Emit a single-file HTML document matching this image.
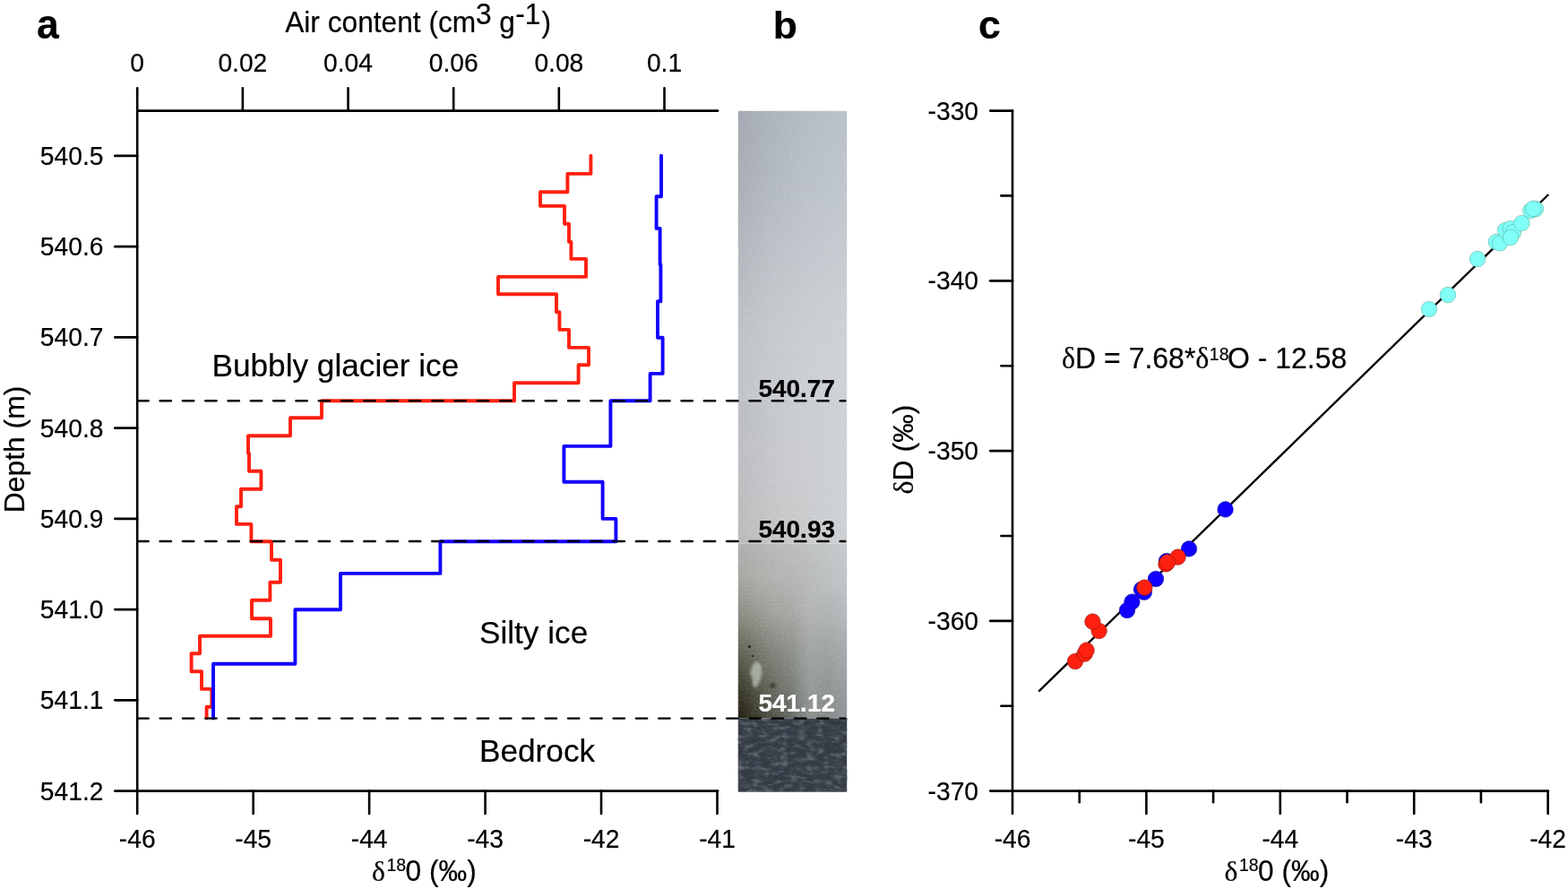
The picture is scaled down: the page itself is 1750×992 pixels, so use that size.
<!DOCTYPE html>
<html lang="en"><head><meta charset="utf-8"><title>Basal ice: air content, isotopes and core image</title>
<style>
html,body{margin:0;padding:0;background:#ffffff;}
body{width:1750px;height:992px;overflow:hidden;}
svg{display:block;}
text{font-family:'Liberation Sans', sans-serif;fill:#000;stroke:#000;stroke-width:0.2px;stroke-linejoin:round;}
.tk{font-size:28.2px;}
.tt{font-size:31.7px;}
.an{font-size:35.2px;}
.eq{font-size:32px;}
.pl{font-size:44.5px;font-weight:bold;}
.ph{font-size:28px;font-weight:bold;}
.dl{font-family:'Liberation Serif', 'DejaVu Serif', serif;}
.ax{stroke:#000;stroke-width:2.6;fill:none;stroke-linecap:round;}
.ah{stroke:#000;stroke-width:2.7;fill:none;stroke-linecap:round;}
.ds{stroke:#000;stroke-width:2.4;fill:none;stroke-linecap:round;stroke-dasharray:12.4 12.9;}
.rl{stroke:#ff2010;stroke-width:3.9;fill:none;stroke-linejoin:round;stroke-linecap:round;}
.bl{stroke:#1200ff;stroke-width:3.9;fill:none;stroke-linejoin:round;stroke-linecap:round;}
.pc{fill:#80fff7;stroke:#4f9488;stroke-width:0.45;}
.pr{fill:#ff2010;stroke:#7a1008;stroke-width:0.5;}
.pb{fill:#1200ff;stroke:#0a0090;stroke-width:0.45;}
</style></head><body>
<svg width="1750" height="992" viewBox="0 0 1750 992">
<rect x="0" y="0" width="1750" height="992" fill="#ffffff"/>
<defs>
<linearGradient id="p0"><stop offset="0.03" stop-color="#a4a9b2"/><stop offset="0.3" stop-color="#acb3bc"/><stop offset="0.62" stop-color="#b4bbc4"/><stop offset="0.97" stop-color="#b9c1c9"/></linearGradient>
<linearGradient id="p1"><stop offset="0.03" stop-color="#a4a9b2"/><stop offset="0.3" stop-color="#acb3bc"/><stop offset="0.62" stop-color="#b4bbc4"/><stop offset="0.97" stop-color="#b9c1c9"/></linearGradient>
<linearGradient id="p2"><stop offset="0.03" stop-color="#a5aab3"/><stop offset="0.3" stop-color="#adb4bc"/><stop offset="0.62" stop-color="#b5bcc4"/><stop offset="0.97" stop-color="#bac1c9"/></linearGradient>
<linearGradient id="p3"><stop offset="0.03" stop-color="#a5aab3"/><stop offset="0.3" stop-color="#adb4bd"/><stop offset="0.62" stop-color="#b5bcc5"/><stop offset="0.97" stop-color="#bac2ca"/></linearGradient>
<linearGradient id="p4"><stop offset="0.03" stop-color="#a5aab3"/><stop offset="0.3" stop-color="#adb4bd"/><stop offset="0.62" stop-color="#b5bcc5"/><stop offset="0.97" stop-color="#bac2ca"/></linearGradient>
<linearGradient id="p5"><stop offset="0.03" stop-color="#a6abb3"/><stop offset="0.3" stop-color="#aeb4bd"/><stop offset="0.62" stop-color="#b6bcc5"/><stop offset="0.97" stop-color="#bac2ca"/></linearGradient>
<linearGradient id="p6"><stop offset="0.03" stop-color="#a6abb4"/><stop offset="0.3" stop-color="#aeb5bd"/><stop offset="0.62" stop-color="#b6bdc5"/><stop offset="0.97" stop-color="#bbc2ca"/></linearGradient>
<linearGradient id="p7"><stop offset="0.03" stop-color="#a6abb4"/><stop offset="0.3" stop-color="#aeb5bd"/><stop offset="0.62" stop-color="#b6bdc5"/><stop offset="0.97" stop-color="#bbc2ca"/></linearGradient>
<linearGradient id="p8"><stop offset="0.03" stop-color="#a7acb4"/><stop offset="0.3" stop-color="#afb5be"/><stop offset="0.62" stop-color="#b7bdc6"/><stop offset="0.97" stop-color="#bbc3ca"/></linearGradient>
<linearGradient id="p9"><stop offset="0.03" stop-color="#a7acb4"/><stop offset="0.3" stop-color="#afb5be"/><stop offset="0.62" stop-color="#b7bdc6"/><stop offset="0.97" stop-color="#bbc3ca"/></linearGradient>
<linearGradient id="p10"><stop offset="0.03" stop-color="#a7acb5"/><stop offset="0.3" stop-color="#afb6be"/><stop offset="0.62" stop-color="#b7bec6"/><stop offset="0.97" stop-color="#bcc3cb"/></linearGradient>
<linearGradient id="p11"><stop offset="0.03" stop-color="#a7acb5"/><stop offset="0.3" stop-color="#afb6be"/><stop offset="0.62" stop-color="#b7bec6"/><stop offset="0.97" stop-color="#bcc3cb"/></linearGradient>
<linearGradient id="p12"><stop offset="0.03" stop-color="#a8adb5"/><stop offset="0.3" stop-color="#b0b6be"/><stop offset="0.62" stop-color="#b8bec6"/><stop offset="0.97" stop-color="#bcc3cb"/></linearGradient>
<linearGradient id="p13"><stop offset="0.03" stop-color="#a8adb5"/><stop offset="0.3" stop-color="#b0b6bf"/><stop offset="0.62" stop-color="#b8bec7"/><stop offset="0.97" stop-color="#bcc4cb"/></linearGradient>
<linearGradient id="p14"><stop offset="0.03" stop-color="#a8adb6"/><stop offset="0.3" stop-color="#b0b7bf"/><stop offset="0.62" stop-color="#b8bfc7"/><stop offset="0.97" stop-color="#bdc4cb"/></linearGradient>
<linearGradient id="p15"><stop offset="0.03" stop-color="#a9aeb6"/><stop offset="0.3" stop-color="#b1b7bf"/><stop offset="0.62" stop-color="#b9bfc7"/><stop offset="0.97" stop-color="#bdc4cb"/></linearGradient>
<linearGradient id="p16"><stop offset="0.03" stop-color="#a9aeb6"/><stop offset="0.3" stop-color="#b1b7bf"/><stop offset="0.62" stop-color="#b9bfc7"/><stop offset="0.97" stop-color="#bdc4cb"/></linearGradient>
<linearGradient id="p17"><stop offset="0.03" stop-color="#a9aeb6"/><stop offset="0.3" stop-color="#b1b7bf"/><stop offset="0.62" stop-color="#b9bfc7"/><stop offset="0.97" stop-color="#bdc4cc"/></linearGradient>
<linearGradient id="p18"><stop offset="0.03" stop-color="#aaafb7"/><stop offset="0.3" stop-color="#b2b8c0"/><stop offset="0.62" stop-color="#bac0c8"/><stop offset="0.97" stop-color="#bec5cc"/></linearGradient>
<linearGradient id="p19"><stop offset="0.03" stop-color="#aaafb7"/><stop offset="0.3" stop-color="#b2b8c0"/><stop offset="0.62" stop-color="#bac0c8"/><stop offset="0.97" stop-color="#bec5cc"/></linearGradient>
<linearGradient id="p20"><stop offset="0.03" stop-color="#aaafb7"/><stop offset="0.3" stop-color="#b2b8c0"/><stop offset="0.62" stop-color="#bac0c8"/><stop offset="0.97" stop-color="#bec5cc"/></linearGradient>
<linearGradient id="p21"><stop offset="0.03" stop-color="#abb0b7"/><stop offset="0.3" stop-color="#b3b9c0"/><stop offset="0.62" stop-color="#bbc0c8"/><stop offset="0.97" stop-color="#bec5cc"/></linearGradient>
<linearGradient id="p22"><stop offset="0.03" stop-color="#abb0b8"/><stop offset="0.3" stop-color="#b3b9c1"/><stop offset="0.62" stop-color="#bbc1c9"/><stop offset="0.97" stop-color="#bfc6cc"/></linearGradient>
<linearGradient id="p23"><stop offset="0.03" stop-color="#acb1b8"/><stop offset="0.3" stop-color="#b4bac1"/><stop offset="0.62" stop-color="#bbc1c9"/><stop offset="0.97" stop-color="#bfc6cd"/></linearGradient>
<linearGradient id="p24"><stop offset="0.03" stop-color="#acb1b9"/><stop offset="0.3" stop-color="#b4bac2"/><stop offset="0.62" stop-color="#bcc2c9"/><stop offset="0.97" stop-color="#c0c6cd"/></linearGradient>
<linearGradient id="p25"><stop offset="0.03" stop-color="#adb1b9"/><stop offset="0.3" stop-color="#b5bac2"/><stop offset="0.62" stop-color="#bcc2c9"/><stop offset="0.97" stop-color="#c0c7cd"/></linearGradient>
<linearGradient id="p26"><stop offset="0.03" stop-color="#adb2b9"/><stop offset="0.3" stop-color="#b5bbc2"/><stop offset="0.62" stop-color="#bdc2ca"/><stop offset="0.97" stop-color="#c0c7cd"/></linearGradient>
<linearGradient id="p27"><stop offset="0.03" stop-color="#aeb2ba"/><stop offset="0.3" stop-color="#b6bbc3"/><stop offset="0.62" stop-color="#bdc3ca"/><stop offset="0.97" stop-color="#c1c7cd"/></linearGradient>
<linearGradient id="p28"><stop offset="0.03" stop-color="#aeb3ba"/><stop offset="0.3" stop-color="#b6bcc3"/><stop offset="0.62" stop-color="#bdc3ca"/><stop offset="0.97" stop-color="#c1c8ce"/></linearGradient>
<linearGradient id="p29"><stop offset="0.03" stop-color="#afb3ba"/><stop offset="0.3" stop-color="#b7bcc3"/><stop offset="0.62" stop-color="#bec3ca"/><stop offset="0.97" stop-color="#c1c8ce"/></linearGradient>
<linearGradient id="p30"><stop offset="0.03" stop-color="#afb4bb"/><stop offset="0.3" stop-color="#b7bdc4"/><stop offset="0.62" stop-color="#bec4cb"/><stop offset="0.97" stop-color="#c2c8ce"/></linearGradient>
<linearGradient id="p31"><stop offset="0.03" stop-color="#b0b4bb"/><stop offset="0.3" stop-color="#b8bdc4"/><stop offset="0.62" stop-color="#bfc4cb"/><stop offset="0.97" stop-color="#c2c8ce"/></linearGradient>
<linearGradient id="p32"><stop offset="0.03" stop-color="#b0b5bb"/><stop offset="0.3" stop-color="#b8bec4"/><stop offset="0.62" stop-color="#bfc4cb"/><stop offset="0.97" stop-color="#c2c9ce"/></linearGradient>
<linearGradient id="p33"><stop offset="0.03" stop-color="#b1b5bc"/><stop offset="0.3" stop-color="#b9bec5"/><stop offset="0.62" stop-color="#bfc5cb"/><stop offset="0.97" stop-color="#c3c9cf"/></linearGradient>
<linearGradient id="p34"><stop offset="0.03" stop-color="#b1b5bc"/><stop offset="0.3" stop-color="#b9bec5"/><stop offset="0.62" stop-color="#c0c5cc"/><stop offset="0.97" stop-color="#c3c9cf"/></linearGradient>
<linearGradient id="p35"><stop offset="0.03" stop-color="#b2b6bc"/><stop offset="0.3" stop-color="#babfc5"/><stop offset="0.62" stop-color="#c0c5cc"/><stop offset="0.97" stop-color="#c3cacf"/></linearGradient>
<linearGradient id="p36"><stop offset="0.03" stop-color="#b2b6bd"/><stop offset="0.3" stop-color="#babfc6"/><stop offset="0.62" stop-color="#c1c6cc"/><stop offset="0.97" stop-color="#c4cacf"/></linearGradient>
<linearGradient id="p37"><stop offset="0.03" stop-color="#b3b7bd"/><stop offset="0.3" stop-color="#bbc0c6"/><stop offset="0.62" stop-color="#c1c6cc"/><stop offset="0.97" stop-color="#c4cacf"/></linearGradient>
<linearGradient id="p38"><stop offset="0.03" stop-color="#b3b7bd"/><stop offset="0.3" stop-color="#bbc0c6"/><stop offset="0.62" stop-color="#c1c6cd"/><stop offset="0.97" stop-color="#c4cbd0"/></linearGradient>
<linearGradient id="p39"><stop offset="0.03" stop-color="#b4b8be"/><stop offset="0.3" stop-color="#bcc1c7"/><stop offset="0.62" stop-color="#c2c7cd"/><stop offset="0.97" stop-color="#c5cbd0"/></linearGradient>
<linearGradient id="p40"><stop offset="0.03" stop-color="#b4b8be"/><stop offset="0.3" stop-color="#bcc1c7"/><stop offset="0.62" stop-color="#c2c7cd"/><stop offset="0.97" stop-color="#c5cbd0"/></linearGradient>
<linearGradient id="p41"><stop offset="0.03" stop-color="#b5b9be"/><stop offset="0.3" stop-color="#bdc1c7"/><stop offset="0.62" stop-color="#c2c7cd"/><stop offset="0.97" stop-color="#c5cbd0"/></linearGradient>
<linearGradient id="p42"><stop offset="0.03" stop-color="#b5b9bf"/><stop offset="0.3" stop-color="#bdc2c8"/><stop offset="0.62" stop-color="#c3c8ce"/><stop offset="0.97" stop-color="#c6ccd1"/></linearGradient>
<linearGradient id="p43"><stop offset="0.03" stop-color="#b6b9bf"/><stop offset="0.3" stop-color="#bdc2c8"/><stop offset="0.62" stop-color="#c3c8ce"/><stop offset="0.97" stop-color="#c6ccd1"/></linearGradient>
<linearGradient id="p44"><stop offset="0.03" stop-color="#b6bac0"/><stop offset="0.3" stop-color="#bec3c8"/><stop offset="0.62" stop-color="#c4c8ce"/><stop offset="0.97" stop-color="#c7ccd1"/></linearGradient>
<linearGradient id="p45"><stop offset="0.03" stop-color="#b6bac0"/><stop offset="0.3" stop-color="#bec3c9"/><stop offset="0.62" stop-color="#c4c9ce"/><stop offset="0.97" stop-color="#c7ccd1"/></linearGradient>
<linearGradient id="p46"><stop offset="0.03" stop-color="#b7bbc0"/><stop offset="0.3" stop-color="#bfc3c9"/><stop offset="0.62" stop-color="#c4c9cf"/><stop offset="0.97" stop-color="#c7cdd2"/></linearGradient>
<linearGradient id="p47"><stop offset="0.03" stop-color="#b7bbc1"/><stop offset="0.3" stop-color="#bfc4c9"/><stop offset="0.62" stop-color="#c5c9cf"/><stop offset="0.97" stop-color="#c8cdd2"/></linearGradient>
<linearGradient id="p48"><stop offset="0.03" stop-color="#b8bbc1"/><stop offset="0.3" stop-color="#bfc4c9"/><stop offset="0.62" stop-color="#c5c9cf"/><stop offset="0.97" stop-color="#c8cdd2"/></linearGradient>
<linearGradient id="p49"><stop offset="0.03" stop-color="#b8bcc1"/><stop offset="0.3" stop-color="#c0c4ca"/><stop offset="0.62" stop-color="#c5cacf"/><stop offset="0.97" stop-color="#c8cdd2"/></linearGradient>
<linearGradient id="p50"><stop offset="0.03" stop-color="#b9bcc2"/><stop offset="0.3" stop-color="#c0c5ca"/><stop offset="0.62" stop-color="#c6cad0"/><stop offset="0.97" stop-color="#c9ced3"/></linearGradient>
<linearGradient id="p51"><stop offset="0.03" stop-color="#b9bdc2"/><stop offset="0.3" stop-color="#c1c5ca"/><stop offset="0.62" stop-color="#c6cad0"/><stop offset="0.97" stop-color="#c9ced3"/></linearGradient>
<linearGradient id="p52"><stop offset="0.03" stop-color="#babdc2"/><stop offset="0.3" stop-color="#c1c5cb"/><stop offset="0.62" stop-color="#c6cbd0"/><stop offset="0.97" stop-color="#c9ced3"/></linearGradient>
<linearGradient id="p53"><stop offset="0.03" stop-color="#babdc3"/><stop offset="0.3" stop-color="#c1c6cb"/><stop offset="0.62" stop-color="#c7cbd0"/><stop offset="0.97" stop-color="#caced3"/></linearGradient>
<linearGradient id="p54"><stop offset="0.03" stop-color="#babec3"/><stop offset="0.3" stop-color="#c2c6cb"/><stop offset="0.62" stop-color="#c7cbd1"/><stop offset="0.97" stop-color="#cacfd4"/></linearGradient>
<linearGradient id="p55"><stop offset="0.03" stop-color="#bbbec3"/><stop offset="0.3" stop-color="#c2c6cc"/><stop offset="0.62" stop-color="#c7ccd1"/><stop offset="0.97" stop-color="#cacfd4"/></linearGradient>
<linearGradient id="p56"><stop offset="0.03" stop-color="#bbbfc4"/><stop offset="0.3" stop-color="#c3c7cc"/><stop offset="0.62" stop-color="#c8ccd1"/><stop offset="0.97" stop-color="#cbcfd4"/></linearGradient>
<linearGradient id="p57"><stop offset="0.03" stop-color="#bcbfc4"/><stop offset="0.3" stop-color="#c3c7cc"/><stop offset="0.62" stop-color="#c8ccd1"/><stop offset="0.97" stop-color="#cbcfd4"/></linearGradient>
<linearGradient id="p58"><stop offset="0.03" stop-color="#bcbfc4"/><stop offset="0.3" stop-color="#c3c7cc"/><stop offset="0.62" stop-color="#c8ccd2"/><stop offset="0.97" stop-color="#cbd0d5"/></linearGradient>
<linearGradient id="p59"><stop offset="0.03" stop-color="#bdc0c5"/><stop offset="0.3" stop-color="#c4c8cd"/><stop offset="0.62" stop-color="#c9cdd2"/><stop offset="0.97" stop-color="#ccd0d5"/></linearGradient>
<linearGradient id="p60"><stop offset="0.03" stop-color="#bdc0c5"/><stop offset="0.3" stop-color="#c4c8cd"/><stop offset="0.62" stop-color="#c9cdd2"/><stop offset="0.97" stop-color="#ccd0d5"/></linearGradient>
<linearGradient id="p61"><stop offset="0.03" stop-color="#bdc0c5"/><stop offset="0.3" stop-color="#c4c8cd"/><stop offset="0.62" stop-color="#c9cdd2"/><stop offset="0.97" stop-color="#ccd0d5"/></linearGradient>
<linearGradient id="p62"><stop offset="0.03" stop-color="#bdc0c5"/><stop offset="0.3" stop-color="#c4c8cd"/><stop offset="0.62" stop-color="#c9cdd2"/><stop offset="0.97" stop-color="#ccd0d5"/></linearGradient>
<linearGradient id="p63"><stop offset="0.03" stop-color="#bec1c5"/><stop offset="0.3" stop-color="#c4c8cd"/><stop offset="0.62" stop-color="#c9cdd2"/><stop offset="0.97" stop-color="#ccd0d5"/></linearGradient>
<linearGradient id="p64"><stop offset="0.03" stop-color="#bec1c6"/><stop offset="0.3" stop-color="#c5c8cd"/><stop offset="0.62" stop-color="#cacdd2"/><stop offset="0.97" stop-color="#ccd0d5"/></linearGradient>
<linearGradient id="p65"><stop offset="0.03" stop-color="#bec1c6"/><stop offset="0.3" stop-color="#c5c9cd"/><stop offset="0.62" stop-color="#caced2"/><stop offset="0.97" stop-color="#cdd1d5"/></linearGradient>
<linearGradient id="p66"><stop offset="0.03" stop-color="#bec1c6"/><stop offset="0.3" stop-color="#c5c9cd"/><stop offset="0.62" stop-color="#caced2"/><stop offset="0.97" stop-color="#cdd1d5"/></linearGradient>
<linearGradient id="p67"><stop offset="0.03" stop-color="#bec1c6"/><stop offset="0.3" stop-color="#c5c9cd"/><stop offset="0.62" stop-color="#caced2"/><stop offset="0.97" stop-color="#cdd1d5"/></linearGradient>
<linearGradient id="p68"><stop offset="0.03" stop-color="#bfc2c6"/><stop offset="0.3" stop-color="#c5c9cd"/><stop offset="0.62" stop-color="#caced2"/><stop offset="0.97" stop-color="#cdd1d5"/></linearGradient>
<linearGradient id="p69"><stop offset="0.03" stop-color="#bfc2c6"/><stop offset="0.3" stop-color="#c5c9cd"/><stop offset="0.62" stop-color="#caced2"/><stop offset="0.97" stop-color="#cdd1d5"/></linearGradient>
<linearGradient id="p70"><stop offset="0.03" stop-color="#bfc2c6"/><stop offset="0.3" stop-color="#c5c9cd"/><stop offset="0.62" stop-color="#caced2"/><stop offset="0.97" stop-color="#cdd1d5"/></linearGradient>
<linearGradient id="p71"><stop offset="0.03" stop-color="#bfc2c7"/><stop offset="0.3" stop-color="#c6c9ce"/><stop offset="0.62" stop-color="#cbced3"/><stop offset="0.97" stop-color="#cdd1d6"/></linearGradient>
<linearGradient id="p72"><stop offset="0.03" stop-color="#bfc2c7"/><stop offset="0.3" stop-color="#c6c9ce"/><stop offset="0.62" stop-color="#cbced3"/><stop offset="0.97" stop-color="#cdd1d6"/></linearGradient>
<linearGradient id="p73"><stop offset="0.03" stop-color="#c0c3c7"/><stop offset="0.3" stop-color="#c6c9ce"/><stop offset="0.62" stop-color="#cbced3"/><stop offset="0.97" stop-color="#cdd1d6"/></linearGradient>
<linearGradient id="p74"><stop offset="0.03" stop-color="#c0c3c7"/><stop offset="0.3" stop-color="#c6c9ce"/><stop offset="0.62" stop-color="#cbced3"/><stop offset="0.97" stop-color="#cdd1d6"/></linearGradient>
<linearGradient id="p75"><stop offset="0.03" stop-color="#c0c3c7"/><stop offset="0.3" stop-color="#c6c9ce"/><stop offset="0.62" stop-color="#cbced3"/><stop offset="0.97" stop-color="#cdd1d6"/></linearGradient>
<linearGradient id="p76"><stop offset="0.03" stop-color="#c0c3c7"/><stop offset="0.3" stop-color="#c6cace"/><stop offset="0.62" stop-color="#cbcfd3"/><stop offset="0.97" stop-color="#ced2d6"/></linearGradient>
<linearGradient id="p77"><stop offset="0.03" stop-color="#c0c3c7"/><stop offset="0.3" stop-color="#c6cace"/><stop offset="0.62" stop-color="#cbcfd3"/><stop offset="0.97" stop-color="#ced2d6"/></linearGradient>
<linearGradient id="p78"><stop offset="0.03" stop-color="#c1c4c8"/><stop offset="0.3" stop-color="#c7cace"/><stop offset="0.62" stop-color="#cccfd3"/><stop offset="0.97" stop-color="#ced2d6"/></linearGradient>
<linearGradient id="p79"><stop offset="0.03" stop-color="#c1c4c8"/><stop offset="0.3" stop-color="#c7cace"/><stop offset="0.62" stop-color="#cccfd3"/><stop offset="0.97" stop-color="#ced2d6"/></linearGradient>
<linearGradient id="p80"><stop offset="0.03" stop-color="#c1c4c8"/><stop offset="0.3" stop-color="#c7cace"/><stop offset="0.62" stop-color="#cccfd3"/><stop offset="0.97" stop-color="#ced2d6"/></linearGradient>
<linearGradient id="p81"><stop offset="0.03" stop-color="#bcbec3"/><stop offset="0.3" stop-color="#c4c7cc"/><stop offset="0.62" stop-color="#cacdd2"/><stop offset="0.97" stop-color="#cdd1d6"/></linearGradient>
<linearGradient id="p82"><stop offset="0.03" stop-color="#bcbec3"/><stop offset="0.3" stop-color="#c4c7cc"/><stop offset="0.62" stop-color="#cacdd2"/><stop offset="0.97" stop-color="#cdd1d6"/></linearGradient>
<linearGradient id="p83"><stop offset="0.03" stop-color="#bcbec3"/><stop offset="0.3" stop-color="#c4c7cc"/><stop offset="0.62" stop-color="#cacdd2"/><stop offset="0.97" stop-color="#cdd1d6"/></linearGradient>
<linearGradient id="p84"><stop offset="0.03" stop-color="#bcbec3"/><stop offset="0.3" stop-color="#c4c7cc"/><stop offset="0.62" stop-color="#cacdd2"/><stop offset="0.97" stop-color="#cdd1d6"/></linearGradient>
<linearGradient id="p85"><stop offset="0.03" stop-color="#bcbec3"/><stop offset="0.3" stop-color="#c4c7cc"/><stop offset="0.62" stop-color="#cacdd2"/><stop offset="0.97" stop-color="#cdd1d6"/></linearGradient>
<linearGradient id="p86"><stop offset="0.03" stop-color="#bcbec2"/><stop offset="0.3" stop-color="#c4c7cb"/><stop offset="0.62" stop-color="#cacdd1"/><stop offset="0.97" stop-color="#ced1d6"/></linearGradient>
<linearGradient id="p87"><stop offset="0.03" stop-color="#bcbec2"/><stop offset="0.3" stop-color="#c4c7cb"/><stop offset="0.62" stop-color="#cacdd1"/><stop offset="0.97" stop-color="#ced1d6"/></linearGradient>
<linearGradient id="p88"><stop offset="0.03" stop-color="#bcbec2"/><stop offset="0.3" stop-color="#c4c7cb"/><stop offset="0.62" stop-color="#cacdd1"/><stop offset="0.97" stop-color="#ced1d6"/></linearGradient>
<linearGradient id="p89"><stop offset="0.03" stop-color="#bcbec2"/><stop offset="0.3" stop-color="#c4c7cb"/><stop offset="0.62" stop-color="#cacdd1"/><stop offset="0.97" stop-color="#ced1d6"/></linearGradient>
<linearGradient id="p90"><stop offset="0.03" stop-color="#bcbec2"/><stop offset="0.3" stop-color="#c4c7cb"/><stop offset="0.62" stop-color="#cacdd1"/><stop offset="0.97" stop-color="#ced1d6"/></linearGradient>
<linearGradient id="p91"><stop offset="0.03" stop-color="#bdbec2"/><stop offset="0.3" stop-color="#c5c7cb"/><stop offset="0.62" stop-color="#cbcdd1"/><stop offset="0.97" stop-color="#ced2d5"/></linearGradient>
<linearGradient id="p92"><stop offset="0.03" stop-color="#bdbec2"/><stop offset="0.3" stop-color="#c5c7cb"/><stop offset="0.62" stop-color="#cbcdd1"/><stop offset="0.97" stop-color="#ced2d5"/></linearGradient>
<linearGradient id="p93"><stop offset="0.03" stop-color="#bdbec2"/><stop offset="0.3" stop-color="#c5c7cb"/><stop offset="0.62" stop-color="#cbcdd1"/><stop offset="0.97" stop-color="#ced2d5"/></linearGradient>
<linearGradient id="p94"><stop offset="0.03" stop-color="#bdbec2"/><stop offset="0.3" stop-color="#c5c7cb"/><stop offset="0.62" stop-color="#cbcdd1"/><stop offset="0.97" stop-color="#ced2d5"/></linearGradient>
<linearGradient id="p95"><stop offset="0.03" stop-color="#bdbec1"/><stop offset="0.3" stop-color="#c5c7ca"/><stop offset="0.62" stop-color="#cbcdd0"/><stop offset="0.97" stop-color="#cfd2d5"/></linearGradient>
<linearGradient id="p96"><stop offset="0.03" stop-color="#bdbec1"/><stop offset="0.3" stop-color="#c5c7ca"/><stop offset="0.62" stop-color="#cbcdd0"/><stop offset="0.97" stop-color="#cfd2d5"/></linearGradient>
<linearGradient id="p97"><stop offset="0.03" stop-color="#bdbec1"/><stop offset="0.3" stop-color="#c5c7ca"/><stop offset="0.62" stop-color="#cbcdd0"/><stop offset="0.97" stop-color="#cfd2d5"/></linearGradient>
<linearGradient id="p98"><stop offset="0.03" stop-color="#bdbec1"/><stop offset="0.3" stop-color="#c5c7ca"/><stop offset="0.62" stop-color="#cbcdd0"/><stop offset="0.97" stop-color="#cfd2d5"/></linearGradient>
<linearGradient id="p99"><stop offset="0.03" stop-color="#bdbec1"/><stop offset="0.3" stop-color="#c5c7ca"/><stop offset="0.62" stop-color="#cbcdd0"/><stop offset="0.97" stop-color="#cfd2d5"/></linearGradient>
<linearGradient id="p100"><stop offset="0.03" stop-color="#bdbec1"/><stop offset="0.3" stop-color="#c5c7ca"/><stop offset="0.62" stop-color="#cbcdd0"/><stop offset="0.97" stop-color="#cfd2d5"/></linearGradient>
<linearGradient id="p101"><stop offset="0.03" stop-color="#bdbec1"/><stop offset="0.3" stop-color="#c5c7ca"/><stop offset="0.62" stop-color="#cbcdd0"/><stop offset="0.97" stop-color="#cfd2d5"/></linearGradient>
<linearGradient id="p102"><stop offset="0.03" stop-color="#bdbec0"/><stop offset="0.3" stop-color="#c5c7c9"/><stop offset="0.62" stop-color="#cbcdcf"/><stop offset="0.97" stop-color="#cfd2d5"/></linearGradient>
<linearGradient id="p103"><stop offset="0.03" stop-color="#bdbec0"/><stop offset="0.3" stop-color="#c5c7c9"/><stop offset="0.62" stop-color="#cbcdcf"/><stop offset="0.97" stop-color="#cfd2d5"/></linearGradient>
<linearGradient id="p104"><stop offset="0.03" stop-color="#bcbdc0"/><stop offset="0.3" stop-color="#c4c6c9"/><stop offset="0.62" stop-color="#cacccf"/><stop offset="0.97" stop-color="#cfd2d4"/></linearGradient>
<linearGradient id="p105"><stop offset="0.03" stop-color="#bcbdc0"/><stop offset="0.3" stop-color="#c4c6c9"/><stop offset="0.62" stop-color="#cacccf"/><stop offset="0.97" stop-color="#ced1d4"/></linearGradient>
<linearGradient id="p106"><stop offset="0.03" stop-color="#bcbdc0"/><stop offset="0.3" stop-color="#c4c6c9"/><stop offset="0.62" stop-color="#cacccf"/><stop offset="0.97" stop-color="#ced1d4"/></linearGradient>
<linearGradient id="p107"><stop offset="0.03" stop-color="#bcbdbf"/><stop offset="0.3" stop-color="#c4c6c8"/><stop offset="0.62" stop-color="#caccce"/><stop offset="0.97" stop-color="#ced1d4"/></linearGradient>
<linearGradient id="p108"><stop offset="0.03" stop-color="#bcbdbf"/><stop offset="0.3" stop-color="#c4c6c8"/><stop offset="0.62" stop-color="#caccce"/><stop offset="0.97" stop-color="#ced1d4"/></linearGradient>
<linearGradient id="p109"><stop offset="0.03" stop-color="#bcbdbf"/><stop offset="0.3" stop-color="#c4c6c8"/><stop offset="0.62" stop-color="#caccce"/><stop offset="0.97" stop-color="#ced1d4"/></linearGradient>
<linearGradient id="p110"><stop offset="0.03" stop-color="#bcbdbf"/><stop offset="0.3" stop-color="#c4c6c8"/><stop offset="0.62" stop-color="#caccce"/><stop offset="0.97" stop-color="#ced1d4"/></linearGradient>
<linearGradient id="p111"><stop offset="0.03" stop-color="#bbbcbe"/><stop offset="0.3" stop-color="#c3c5c7"/><stop offset="0.62" stop-color="#c9cbcd"/><stop offset="0.97" stop-color="#ced1d3"/></linearGradient>
<linearGradient id="p112"><stop offset="0.03" stop-color="#bbbcbe"/><stop offset="0.3" stop-color="#c3c5c7"/><stop offset="0.62" stop-color="#c9cbcd"/><stop offset="0.97" stop-color="#ced1d3"/></linearGradient>
<linearGradient id="p113"><stop offset="0.03" stop-color="#bbbcbe"/><stop offset="0.3" stop-color="#c3c5c7"/><stop offset="0.62" stop-color="#c9cbcd"/><stop offset="0.97" stop-color="#ced1d3"/></linearGradient>
<linearGradient id="p114"><stop offset="0.03" stop-color="#bbbcbe"/><stop offset="0.3" stop-color="#c3c5c7"/><stop offset="0.62" stop-color="#c9cbcd"/><stop offset="0.97" stop-color="#ced1d3"/></linearGradient>
<linearGradient id="p115"><stop offset="0.03" stop-color="#bbbcbd"/><stop offset="0.3" stop-color="#c3c5c6"/><stop offset="0.62" stop-color="#c9cbcc"/><stop offset="0.97" stop-color="#ced1d3"/></linearGradient>
<linearGradient id="p116"><stop offset="0.03" stop-color="#bbbcbd"/><stop offset="0.3" stop-color="#c3c5c6"/><stop offset="0.62" stop-color="#c9cbcc"/><stop offset="0.97" stop-color="#cdd0d3"/></linearGradient>
<linearGradient id="p117"><stop offset="0.03" stop-color="#bbbcbd"/><stop offset="0.3" stop-color="#c3c5c6"/><stop offset="0.62" stop-color="#c9cbcc"/><stop offset="0.97" stop-color="#cdd0d3"/></linearGradient>
<linearGradient id="p118"><stop offset="0.03" stop-color="#babbbd"/><stop offset="0.3" stop-color="#c2c4c6"/><stop offset="0.62" stop-color="#c8cacc"/><stop offset="0.97" stop-color="#cdd0d2"/></linearGradient>
<linearGradient id="p119"><stop offset="0.03" stop-color="#babbbc"/><stop offset="0.3" stop-color="#c2c4c5"/><stop offset="0.62" stop-color="#c8cacb"/><stop offset="0.97" stop-color="#cdd0d2"/></linearGradient>
<linearGradient id="p120"><stop offset="0.03" stop-color="#babbbc"/><stop offset="0.3" stop-color="#c2c4c5"/><stop offset="0.62" stop-color="#c8cacb"/><stop offset="0.97" stop-color="#cdd0d2"/></linearGradient>
<linearGradient id="p121"><stop offset="0.03" stop-color="#afb1af"/><stop offset="0.3" stop-color="#b8bab8"/><stop offset="0.62" stop-color="#bec0c0"/><stop offset="0.97" stop-color="#c6cacc"/></linearGradient>
<linearGradient id="p122"><stop offset="0.03" stop-color="#aeb0ae"/><stop offset="0.3" stop-color="#b7b9b7"/><stop offset="0.62" stop-color="#bdbfbf"/><stop offset="0.97" stop-color="#c5c9cb"/></linearGradient>
<linearGradient id="p123"><stop offset="0.03" stop-color="#adafad"/><stop offset="0.3" stop-color="#b6b8b6"/><stop offset="0.62" stop-color="#bcbebe"/><stop offset="0.97" stop-color="#c4c8ca"/></linearGradient>
<linearGradient id="p124"><stop offset="0.03" stop-color="#acaeab"/><stop offset="0.3" stop-color="#b5b7b5"/><stop offset="0.62" stop-color="#bbbdbd"/><stop offset="0.97" stop-color="#c4c8ca"/></linearGradient>
<linearGradient id="p125"><stop offset="0.03" stop-color="#abadaa"/><stop offset="0.3" stop-color="#b4b6b4"/><stop offset="0.62" stop-color="#bbbdbc"/><stop offset="0.97" stop-color="#c3c7c9"/></linearGradient>
<linearGradient id="p126"><stop offset="0.03" stop-color="#aaaca8"/><stop offset="0.3" stop-color="#b3b5b3"/><stop offset="0.62" stop-color="#babcbb"/><stop offset="0.97" stop-color="#c2c6c8"/></linearGradient>
<linearGradient id="p127"><stop offset="0.03" stop-color="#a9aba7"/><stop offset="0.3" stop-color="#b2b4b2"/><stop offset="0.62" stop-color="#b9bbba"/><stop offset="0.97" stop-color="#c2c6c8"/></linearGradient>
<linearGradient id="p128"><stop offset="0.03" stop-color="#a8aaa6"/><stop offset="0.3" stop-color="#b2b4b1"/><stop offset="0.62" stop-color="#b8baba"/><stop offset="0.97" stop-color="#c1c5c7"/></linearGradient>
<linearGradient id="p129"><stop offset="0.03" stop-color="#a7a9a4"/><stop offset="0.3" stop-color="#b1b3b0"/><stop offset="0.62" stop-color="#b8bab9"/><stop offset="0.97" stop-color="#c1c5c7"/></linearGradient>
<linearGradient id="p130"><stop offset="0.03" stop-color="#a6a8a3"/><stop offset="0.3" stop-color="#b0b2af"/><stop offset="0.62" stop-color="#b7b9b8"/><stop offset="0.97" stop-color="#c0c4c6"/></linearGradient>
<linearGradient id="p131"><stop offset="0.03" stop-color="#a3a5a0"/><stop offset="0.3" stop-color="#aeb0ad"/><stop offset="0.62" stop-color="#b6b8b6"/><stop offset="0.97" stop-color="#bfc3c5"/></linearGradient>
<linearGradient id="p132"><stop offset="0.03" stop-color="#a1a39d"/><stop offset="0.3" stop-color="#acaeab"/><stop offset="0.62" stop-color="#b4b6b5"/><stop offset="0.97" stop-color="#bec2c4"/></linearGradient>
<linearGradient id="p133"><stop offset="0.03" stop-color="#9ea099"/><stop offset="0.3" stop-color="#aaaca9"/><stop offset="0.62" stop-color="#b3b5b4"/><stop offset="0.97" stop-color="#bcc1c3"/></linearGradient>
<linearGradient id="p134"><stop offset="0.03" stop-color="#9b9d96"/><stop offset="0.3" stop-color="#a9aba6"/><stop offset="0.62" stop-color="#b2b4b2"/><stop offset="0.97" stop-color="#bbc0c2"/></linearGradient>
<linearGradient id="p135"><stop offset="0.03" stop-color="#999b93"/><stop offset="0.3" stop-color="#a7a9a4"/><stop offset="0.62" stop-color="#b0b2b1"/><stop offset="0.97" stop-color="#babec0"/></linearGradient>
<linearGradient id="p136"><stop offset="0.03" stop-color="#969890"/><stop offset="0.3" stop-color="#a5a7a2"/><stop offset="0.62" stop-color="#afb1b0"/><stop offset="0.97" stop-color="#b9bdbf"/></linearGradient>
<linearGradient id="p137"><stop offset="0.03" stop-color="#94968d"/><stop offset="0.3" stop-color="#a3a5a0"/><stop offset="0.62" stop-color="#aeb0ae"/><stop offset="0.97" stop-color="#b8bcbe"/></linearGradient>
<linearGradient id="p138"><stop offset="0.03" stop-color="#91938a"/><stop offset="0.3" stop-color="#a2a49e"/><stop offset="0.62" stop-color="#adafad"/><stop offset="0.97" stop-color="#b6bbbd"/></linearGradient>
<linearGradient id="p139"><stop offset="0.03" stop-color="#8e9087"/><stop offset="0.3" stop-color="#a0a29c"/><stop offset="0.62" stop-color="#abadab"/><stop offset="0.97" stop-color="#b5babc"/></linearGradient>
<linearGradient id="p140"><stop offset="0.03" stop-color="#8c8e84"/><stop offset="0.3" stop-color="#9ea09a"/><stop offset="0.62" stop-color="#aaacaa"/><stop offset="0.97" stop-color="#b4b9bb"/></linearGradient>
<linearGradient id="p141"><stop offset="0.03" stop-color="#888a80"/><stop offset="0.3" stop-color="#9b9d97"/><stop offset="0.62" stop-color="#a8aaa8"/><stop offset="0.97" stop-color="#b2b7b9"/></linearGradient>
<linearGradient id="p142"><stop offset="0.03" stop-color="#84867b"/><stop offset="0.3" stop-color="#989b94"/><stop offset="0.62" stop-color="#a6a8a6"/><stop offset="0.97" stop-color="#b1b6b8"/></linearGradient>
<linearGradient id="p143"><stop offset="0.03" stop-color="#818377"/><stop offset="0.3" stop-color="#969891"/><stop offset="0.62" stop-color="#a4a6a4"/><stop offset="0.97" stop-color="#afb4b6"/></linearGradient>
<linearGradient id="p144"><stop offset="0.03" stop-color="#7d7f73"/><stop offset="0.3" stop-color="#93958e"/><stop offset="0.62" stop-color="#a2a4a2"/><stop offset="0.97" stop-color="#aeb3b5"/></linearGradient>
<linearGradient id="p145"><stop offset="0.03" stop-color="#797b6f"/><stop offset="0.3" stop-color="#90928b"/><stop offset="0.62" stop-color="#a0a2a0"/><stop offset="0.97" stop-color="#acb1b3"/></linearGradient>
<linearGradient id="p146"><stop offset="0.03" stop-color="#75776b"/><stop offset="0.3" stop-color="#8d9088"/><stop offset="0.62" stop-color="#9ea19e"/><stop offset="0.97" stop-color="#abb0b2"/></linearGradient>
<linearGradient id="p147"><stop offset="0.03" stop-color="#717367"/><stop offset="0.3" stop-color="#8a8d85"/><stop offset="0.62" stop-color="#9c9f9c"/><stop offset="0.97" stop-color="#a9aeb0"/></linearGradient>
<linearGradient id="p148"><stop offset="0.03" stop-color="#6e7062"/><stop offset="0.3" stop-color="#888a82"/><stop offset="0.62" stop-color="#9a9d9a"/><stop offset="0.97" stop-color="#a8adaf"/></linearGradient>
<linearGradient id="p149"><stop offset="0.03" stop-color="#6a6c5e"/><stop offset="0.3" stop-color="#85887f"/><stop offset="0.62" stop-color="#989b98"/><stop offset="0.97" stop-color="#a7acae"/></linearGradient>
<linearGradient id="p150"><stop offset="0.03" stop-color="#66685a"/><stop offset="0.3" stop-color="#82857c"/><stop offset="0.62" stop-color="#969996"/><stop offset="0.97" stop-color="#a5aaac"/></linearGradient>
<linearGradient id="p151"><stop offset="0.03" stop-color="#626456"/><stop offset="0.3" stop-color="#7f8279"/><stop offset="0.62" stop-color="#949894"/><stop offset="0.97" stop-color="#a4a9ab"/></linearGradient>
<linearGradient id="p152"><stop offset="0.03" stop-color="#5f6052"/><stop offset="0.3" stop-color="#7d8076"/><stop offset="0.62" stop-color="#939693"/><stop offset="0.97" stop-color="#a2a7a9"/></linearGradient>
<linearGradient id="p153"><stop offset="0.03" stop-color="#5b5d4e"/><stop offset="0.3" stop-color="#7a7d74"/><stop offset="0.62" stop-color="#919591"/><stop offset="0.97" stop-color="#a1a6a8"/></linearGradient>
<linearGradient id="p154"><stop offset="0.03" stop-color="#58594a"/><stop offset="0.3" stop-color="#787b71"/><stop offset="0.62" stop-color="#909390"/><stop offset="0.97" stop-color="#a0a5a7"/></linearGradient>
<linearGradient id="p155"><stop offset="0.03" stop-color="#545546"/><stop offset="0.3" stop-color="#75786e"/><stop offset="0.62" stop-color="#8e928e"/><stop offset="0.97" stop-color="#9fa4a6"/></linearGradient>
<linearGradient id="p156"><stop offset="0.03" stop-color="#515142"/><stop offset="0.3" stop-color="#72756b"/><stop offset="0.62" stop-color="#8c908c"/><stop offset="0.97" stop-color="#9da2a4"/></linearGradient>
<linearGradient id="p157"><stop offset="0.03" stop-color="#4d4e3e"/><stop offset="0.3" stop-color="#707369"/><stop offset="0.62" stop-color="#8b8f8b"/><stop offset="0.97" stop-color="#9ca1a3"/></linearGradient>
<linearGradient id="p158"><stop offset="0.03" stop-color="#494a3a"/><stop offset="0.3" stop-color="#6d7066"/><stop offset="0.62" stop-color="#898d89"/><stop offset="0.97" stop-color="#9ba0a2"/></linearGradient>
<linearGradient id="p159"><stop offset="0.03" stop-color="#464636"/><stop offset="0.3" stop-color="#6b6e63"/><stop offset="0.62" stop-color="#888c88"/><stop offset="0.97" stop-color="#999ea0"/></linearGradient>
<linearGradient id="p160"><stop offset="0.03" stop-color="#424232"/><stop offset="0.3" stop-color="#686b60"/><stop offset="0.62" stop-color="#868a86"/><stop offset="0.97" stop-color="#989d9f"/></linearGradient>
<linearGradient id="p161"><stop offset="0.03" stop-color="#3f3f2f"/><stop offset="0.3" stop-color="#65685d"/><stop offset="0.62" stop-color="#858985"/><stop offset="0.97" stop-color="#979c9e"/></linearGradient>
<linearGradient id="p162"><stop offset="0.03" stop-color="#3c3b2b"/><stop offset="0.3" stop-color="#63665b"/><stop offset="0.62" stop-color="#838783"/><stop offset="0.97" stop-color="#969b9d"/></linearGradient>
<linearGradient id="p163"><stop offset="0.03" stop-color="#393828"/><stop offset="0.3" stop-color="#606358"/><stop offset="0.62" stop-color="#818581"/><stop offset="0.97" stop-color="#959a9c"/></linearGradient>
<linearGradient id="p164"><stop offset="0.03" stop-color="#363425"/><stop offset="0.3" stop-color="#5d6055"/><stop offset="0.62" stop-color="#808480"/><stop offset="0.97" stop-color="#94999b"/></linearGradient>
<linearGradient id="p165"><stop offset="0.03" stop-color="#333121"/><stop offset="0.3" stop-color="#5a5d52"/><stop offset="0.62" stop-color="#7e827e"/><stop offset="0.97" stop-color="#93989a"/></linearGradient>
<linearGradient id="p166"><stop offset="0.03" stop-color="#302d1e"/><stop offset="0.3" stop-color="#585b50"/><stop offset="0.62" stop-color="#7d817d"/><stop offset="0.97" stop-color="#929799"/></linearGradient>
<linearGradient id="p167"><stop offset="0.03" stop-color="#2d2a1b"/><stop offset="0.3" stop-color="#55584d"/><stop offset="0.62" stop-color="#7b7f7b"/><stop offset="0.97" stop-color="#919698"/></linearGradient>
<linearGradient id="p168"><stop offset="0.03" stop-color="#2b2819"/><stop offset="0.3" stop-color="#52554a"/><stop offset="0.62" stop-color="#797d79"/><stop offset="0.97" stop-color="#909597"/></linearGradient>
<linearGradient id="p169"><stop offset="0.03" stop-color="#292517"/><stop offset="0.3" stop-color="#4f5247"/><stop offset="0.62" stop-color="#777b77"/><stop offset="0.97" stop-color="#8f9496"/></linearGradient>
<filter id="nz" x="0" y="0" width="1" height="1"><feTurbulence type="fractalNoise" baseFrequency="0.45" numOctaves="2" seed="7"/><feColorMatrix type="matrix" values="0 0 0 0 1  0 0 0 0 1  0 0 0 0 1  1.4 0 0 0 -0.72"/></filter>
<filter id="nr" x="0" y="0" width="1" height="1"><feTurbulence type="fractalNoise" baseFrequency="0.10 0.20" numOctaves="2" seed="3"/><feColorMatrix type="matrix" values="0 0 0 0 0.62  0 0 0 0 0.68  0 0 0 0 0.74  2.2 0 0 0 -1.05"/></filter>
<filter id="nd" x="0" y="0" width="1" height="1"><feTurbulence type="fractalNoise" baseFrequency="0.10 0.20" numOctaves="2" seed="11"/><feColorMatrix type="matrix" values="0 0 0 0 0.10  0 0 0 0 0.12  0 0 0 0 0.15  2.2 0 0 0 -1.05"/></filter>
</defs>
<g id="panel-b-photo">
<rect x="823.8" y="123.8" width="121.4" height="4.59" fill="url(#p0)"/>
<rect x="823.8" y="127.79" width="121.4" height="4.59" fill="url(#p1)"/>
<rect x="823.8" y="131.78" width="121.4" height="4.59" fill="url(#p2)"/>
<rect x="823.8" y="135.77" width="121.4" height="4.59" fill="url(#p3)"/>
<rect x="823.8" y="139.76" width="121.4" height="4.59" fill="url(#p4)"/>
<rect x="823.8" y="143.75" width="121.4" height="4.59" fill="url(#p5)"/>
<rect x="823.8" y="147.74" width="121.4" height="4.59" fill="url(#p6)"/>
<rect x="823.8" y="151.73" width="121.4" height="4.59" fill="url(#p7)"/>
<rect x="823.8" y="155.72" width="121.4" height="4.59" fill="url(#p8)"/>
<rect x="823.8" y="159.71" width="121.4" height="4.59" fill="url(#p9)"/>
<rect x="823.8" y="163.7" width="121.4" height="4.59" fill="url(#p10)"/>
<rect x="823.8" y="167.69" width="121.4" height="4.59" fill="url(#p11)"/>
<rect x="823.8" y="171.68" width="121.4" height="4.59" fill="url(#p12)"/>
<rect x="823.8" y="175.67" width="121.4" height="4.59" fill="url(#p13)"/>
<rect x="823.8" y="179.66" width="121.4" height="4.59" fill="url(#p14)"/>
<rect x="823.8" y="183.65" width="121.4" height="4.59" fill="url(#p15)"/>
<rect x="823.8" y="187.64" width="121.4" height="4.59" fill="url(#p16)"/>
<rect x="823.8" y="191.63" width="121.4" height="4.59" fill="url(#p17)"/>
<rect x="823.8" y="195.62" width="121.4" height="4.59" fill="url(#p18)"/>
<rect x="823.8" y="199.61" width="121.4" height="4.59" fill="url(#p19)"/>
<rect x="823.8" y="203.6" width="121.4" height="4.59" fill="url(#p20)"/>
<rect x="823.8" y="207.59" width="121.4" height="4.59" fill="url(#p21)"/>
<rect x="823.8" y="211.58" width="121.4" height="4.59" fill="url(#p22)"/>
<rect x="823.8" y="215.57" width="121.4" height="4.59" fill="url(#p23)"/>
<rect x="823.8" y="219.56" width="121.4" height="4.59" fill="url(#p24)"/>
<rect x="823.8" y="223.55" width="121.4" height="4.59" fill="url(#p25)"/>
<rect x="823.8" y="227.54" width="121.4" height="4.59" fill="url(#p26)"/>
<rect x="823.8" y="231.53" width="121.4" height="4.59" fill="url(#p27)"/>
<rect x="823.8" y="235.52" width="121.4" height="4.59" fill="url(#p28)"/>
<rect x="823.8" y="239.51" width="121.4" height="4.59" fill="url(#p29)"/>
<rect x="823.8" y="243.5" width="121.4" height="4.59" fill="url(#p30)"/>
<rect x="823.8" y="247.49" width="121.4" height="4.59" fill="url(#p31)"/>
<rect x="823.8" y="251.48" width="121.4" height="4.59" fill="url(#p32)"/>
<rect x="823.8" y="255.47" width="121.4" height="4.59" fill="url(#p33)"/>
<rect x="823.8" y="259.46" width="121.4" height="4.59" fill="url(#p34)"/>
<rect x="823.8" y="263.45" width="121.4" height="4.59" fill="url(#p35)"/>
<rect x="823.8" y="267.44" width="121.4" height="4.59" fill="url(#p36)"/>
<rect x="823.8" y="271.43" width="121.4" height="4.59" fill="url(#p37)"/>
<rect x="823.8" y="275.42" width="121.4" height="4.59" fill="url(#p38)"/>
<rect x="823.8" y="279.41" width="121.4" height="4.59" fill="url(#p39)"/>
<rect x="823.8" y="283.4" width="121.4" height="4.59" fill="url(#p40)"/>
<rect x="823.8" y="287.4" width="121.4" height="4.59" fill="url(#p41)"/>
<rect x="823.8" y="291.39" width="121.4" height="4.59" fill="url(#p42)"/>
<rect x="823.8" y="295.38" width="121.4" height="4.59" fill="url(#p43)"/>
<rect x="823.8" y="299.37" width="121.4" height="4.59" fill="url(#p44)"/>
<rect x="823.8" y="303.36" width="121.4" height="4.59" fill="url(#p45)"/>
<rect x="823.8" y="307.35" width="121.4" height="4.59" fill="url(#p46)"/>
<rect x="823.8" y="311.34" width="121.4" height="4.59" fill="url(#p47)"/>
<rect x="823.8" y="315.33" width="121.4" height="4.59" fill="url(#p48)"/>
<rect x="823.8" y="319.32" width="121.4" height="4.59" fill="url(#p49)"/>
<rect x="823.8" y="323.31" width="121.4" height="4.59" fill="url(#p50)"/>
<rect x="823.8" y="327.3" width="121.4" height="4.59" fill="url(#p51)"/>
<rect x="823.8" y="331.29" width="121.4" height="4.59" fill="url(#p52)"/>
<rect x="823.8" y="335.28" width="121.4" height="4.59" fill="url(#p53)"/>
<rect x="823.8" y="339.27" width="121.4" height="4.59" fill="url(#p54)"/>
<rect x="823.8" y="343.26" width="121.4" height="4.59" fill="url(#p55)"/>
<rect x="823.8" y="347.25" width="121.4" height="4.59" fill="url(#p56)"/>
<rect x="823.8" y="351.24" width="121.4" height="4.59" fill="url(#p57)"/>
<rect x="823.8" y="355.23" width="121.4" height="4.59" fill="url(#p58)"/>
<rect x="823.8" y="359.22" width="121.4" height="4.59" fill="url(#p59)"/>
<rect x="823.8" y="363.21" width="121.4" height="4.59" fill="url(#p60)"/>
<rect x="823.8" y="367.2" width="121.4" height="4.59" fill="url(#p61)"/>
<rect x="823.8" y="371.19" width="121.4" height="4.59" fill="url(#p62)"/>
<rect x="823.8" y="375.18" width="121.4" height="4.59" fill="url(#p63)"/>
<rect x="823.8" y="379.17" width="121.4" height="4.59" fill="url(#p64)"/>
<rect x="823.8" y="383.16" width="121.4" height="4.59" fill="url(#p65)"/>
<rect x="823.8" y="387.15" width="121.4" height="4.59" fill="url(#p66)"/>
<rect x="823.8" y="391.14" width="121.4" height="4.59" fill="url(#p67)"/>
<rect x="823.8" y="395.13" width="121.4" height="4.59" fill="url(#p68)"/>
<rect x="823.8" y="399.12" width="121.4" height="4.59" fill="url(#p69)"/>
<rect x="823.8" y="403.11" width="121.4" height="4.59" fill="url(#p70)"/>
<rect x="823.8" y="407.1" width="121.4" height="4.59" fill="url(#p71)"/>
<rect x="823.8" y="411.09" width="121.4" height="4.59" fill="url(#p72)"/>
<rect x="823.8" y="415.08" width="121.4" height="4.59" fill="url(#p73)"/>
<rect x="823.8" y="419.07" width="121.4" height="4.59" fill="url(#p74)"/>
<rect x="823.8" y="423.06" width="121.4" height="4.59" fill="url(#p75)"/>
<rect x="823.8" y="427.05" width="121.4" height="4.59" fill="url(#p76)"/>
<rect x="823.8" y="431.04" width="121.4" height="4.59" fill="url(#p77)"/>
<rect x="823.8" y="435.03" width="121.4" height="4.59" fill="url(#p78)"/>
<rect x="823.8" y="439.02" width="121.4" height="4.59" fill="url(#p79)"/>
<rect x="823.8" y="443.01" width="121.4" height="3.99" fill="url(#p80)"/>
<rect x="823.8" y="447" width="121.4" height="4.59" fill="url(#p81)"/>
<rect x="823.8" y="450.99" width="121.4" height="4.59" fill="url(#p82)"/>
<rect x="823.8" y="454.98" width="121.4" height="4.59" fill="url(#p83)"/>
<rect x="823.8" y="458.96" width="121.4" height="4.59" fill="url(#p84)"/>
<rect x="823.8" y="462.95" width="121.4" height="4.59" fill="url(#p85)"/>
<rect x="823.8" y="466.94" width="121.4" height="4.59" fill="url(#p86)"/>
<rect x="823.8" y="470.93" width="121.4" height="4.59" fill="url(#p87)"/>
<rect x="823.8" y="474.91" width="121.4" height="4.59" fill="url(#p88)"/>
<rect x="823.8" y="478.9" width="121.4" height="4.59" fill="url(#p89)"/>
<rect x="823.8" y="482.89" width="121.4" height="4.59" fill="url(#p90)"/>
<rect x="823.8" y="486.88" width="121.4" height="4.59" fill="url(#p91)"/>
<rect x="823.8" y="490.86" width="121.4" height="4.59" fill="url(#p92)"/>
<rect x="823.8" y="494.85" width="121.4" height="4.59" fill="url(#p93)"/>
<rect x="823.8" y="498.84" width="121.4" height="4.59" fill="url(#p94)"/>
<rect x="823.8" y="502.82" width="121.4" height="4.59" fill="url(#p95)"/>
<rect x="823.8" y="506.81" width="121.4" height="4.59" fill="url(#p96)"/>
<rect x="823.8" y="510.8" width="121.4" height="4.59" fill="url(#p97)"/>
<rect x="823.8" y="514.79" width="121.4" height="4.59" fill="url(#p98)"/>
<rect x="823.8" y="518.77" width="121.4" height="4.59" fill="url(#p99)"/>
<rect x="823.8" y="522.76" width="121.4" height="4.59" fill="url(#p100)"/>
<rect x="823.8" y="526.75" width="121.4" height="4.59" fill="url(#p101)"/>
<rect x="823.8" y="530.74" width="121.4" height="4.59" fill="url(#p102)"/>
<rect x="823.8" y="534.73" width="121.4" height="4.59" fill="url(#p103)"/>
<rect x="823.8" y="538.71" width="121.4" height="4.59" fill="url(#p104)"/>
<rect x="823.8" y="542.7" width="121.4" height="4.59" fill="url(#p105)"/>
<rect x="823.8" y="546.69" width="121.4" height="4.59" fill="url(#p106)"/>
<rect x="823.8" y="550.67" width="121.4" height="4.59" fill="url(#p107)"/>
<rect x="823.8" y="554.66" width="121.4" height="4.59" fill="url(#p108)"/>
<rect x="823.8" y="558.65" width="121.4" height="4.59" fill="url(#p109)"/>
<rect x="823.8" y="562.64" width="121.4" height="4.59" fill="url(#p110)"/>
<rect x="823.8" y="566.62" width="121.4" height="4.59" fill="url(#p111)"/>
<rect x="823.8" y="570.61" width="121.4" height="4.59" fill="url(#p112)"/>
<rect x="823.8" y="574.6" width="121.4" height="4.59" fill="url(#p113)"/>
<rect x="823.8" y="578.59" width="121.4" height="4.59" fill="url(#p114)"/>
<rect x="823.8" y="582.58" width="121.4" height="4.59" fill="url(#p115)"/>
<rect x="823.8" y="586.56" width="121.4" height="4.59" fill="url(#p116)"/>
<rect x="823.8" y="590.55" width="121.4" height="4.59" fill="url(#p117)"/>
<rect x="823.8" y="594.54" width="121.4" height="4.59" fill="url(#p118)"/>
<rect x="823.8" y="598.52" width="121.4" height="4.59" fill="url(#p119)"/>
<rect x="823.8" y="602.51" width="121.4" height="3.99" fill="url(#p120)"/>
<rect x="823.8" y="606.5" width="121.4" height="4.58" fill="url(#p121)"/>
<rect x="823.8" y="610.48" width="121.4" height="4.58" fill="url(#p122)"/>
<rect x="823.8" y="614.46" width="121.4" height="4.58" fill="url(#p123)"/>
<rect x="823.8" y="618.44" width="121.4" height="4.58" fill="url(#p124)"/>
<rect x="823.8" y="622.43" width="121.4" height="4.58" fill="url(#p125)"/>
<rect x="823.8" y="626.41" width="121.4" height="4.58" fill="url(#p126)"/>
<rect x="823.8" y="630.39" width="121.4" height="4.58" fill="url(#p127)"/>
<rect x="823.8" y="634.37" width="121.4" height="4.58" fill="url(#p128)"/>
<rect x="823.8" y="638.35" width="121.4" height="4.58" fill="url(#p129)"/>
<rect x="823.8" y="642.33" width="121.4" height="4.58" fill="url(#p130)"/>
<rect x="823.8" y="646.32" width="121.4" height="4.58" fill="url(#p131)"/>
<rect x="823.8" y="650.3" width="121.4" height="4.58" fill="url(#p132)"/>
<rect x="823.8" y="654.28" width="121.4" height="4.58" fill="url(#p133)"/>
<rect x="823.8" y="658.26" width="121.4" height="4.58" fill="url(#p134)"/>
<rect x="823.8" y="662.24" width="121.4" height="4.58" fill="url(#p135)"/>
<rect x="823.8" y="666.22" width="121.4" height="4.58" fill="url(#p136)"/>
<rect x="823.8" y="670.21" width="121.4" height="4.58" fill="url(#p137)"/>
<rect x="823.8" y="674.19" width="121.4" height="4.58" fill="url(#p138)"/>
<rect x="823.8" y="678.17" width="121.4" height="4.58" fill="url(#p139)"/>
<rect x="823.8" y="682.15" width="121.4" height="4.58" fill="url(#p140)"/>
<rect x="823.8" y="686.13" width="121.4" height="4.58" fill="url(#p141)"/>
<rect x="823.8" y="690.11" width="121.4" height="4.58" fill="url(#p142)"/>
<rect x="823.8" y="694.1" width="121.4" height="4.58" fill="url(#p143)"/>
<rect x="823.8" y="698.08" width="121.4" height="4.58" fill="url(#p144)"/>
<rect x="823.8" y="702.06" width="121.4" height="4.58" fill="url(#p145)"/>
<rect x="823.8" y="706.04" width="121.4" height="4.58" fill="url(#p146)"/>
<rect x="823.8" y="710.02" width="121.4" height="4.58" fill="url(#p147)"/>
<rect x="823.8" y="714" width="121.4" height="4.58" fill="url(#p148)"/>
<rect x="823.8" y="717.99" width="121.4" height="4.58" fill="url(#p149)"/>
<rect x="823.8" y="721.97" width="121.4" height="4.58" fill="url(#p150)"/>
<rect x="823.8" y="725.95" width="121.4" height="4.58" fill="url(#p151)"/>
<rect x="823.8" y="729.93" width="121.4" height="4.58" fill="url(#p152)"/>
<rect x="823.8" y="733.91" width="121.4" height="4.58" fill="url(#p153)"/>
<rect x="823.8" y="737.89" width="121.4" height="4.58" fill="url(#p154)"/>
<rect x="823.8" y="741.88" width="121.4" height="4.58" fill="url(#p155)"/>
<rect x="823.8" y="745.86" width="121.4" height="4.58" fill="url(#p156)"/>
<rect x="823.8" y="749.84" width="121.4" height="4.58" fill="url(#p157)"/>
<rect x="823.8" y="753.82" width="121.4" height="4.58" fill="url(#p158)"/>
<rect x="823.8" y="757.8" width="121.4" height="4.58" fill="url(#p159)"/>
<rect x="823.8" y="761.78" width="121.4" height="4.58" fill="url(#p160)"/>
<rect x="823.8" y="765.77" width="121.4" height="4.58" fill="url(#p161)"/>
<rect x="823.8" y="769.75" width="121.4" height="4.58" fill="url(#p162)"/>
<rect x="823.8" y="773.73" width="121.4" height="4.58" fill="url(#p163)"/>
<rect x="823.8" y="777.71" width="121.4" height="4.58" fill="url(#p164)"/>
<rect x="823.8" y="781.69" width="121.4" height="4.58" fill="url(#p165)"/>
<rect x="823.8" y="785.67" width="121.4" height="4.58" fill="url(#p166)"/>
<rect x="823.8" y="789.66" width="121.4" height="4.58" fill="url(#p167)"/>
<rect x="823.8" y="793.64" width="121.4" height="4.58" fill="url(#p168)"/>
<rect x="823.8" y="797.62" width="121.4" height="3.98" fill="url(#p169)"/>
<rect x="823.8" y="123.8" width="121.4" height="677.8" filter="url(#nz)" opacity="0.30"/>
<defs><linearGradient id="stk"><stop offset="0" stop-color="#fff" stop-opacity="0"/><stop offset="0.5" stop-color="#e8eef2" stop-opacity="0.9"/><stop offset="1" stop-color="#fff" stop-opacity="0"/></linearGradient><linearGradient id="stv" x1="0" y1="0" x2="0" y2="1"><stop offset="0" stop-color="#fff" stop-opacity="0"/><stop offset="0.45" stop-color="#fff" stop-opacity="0.55"/><stop offset="1" stop-color="#fff" stop-opacity="0.8"/></linearGradient><mask id="stm"><rect x="880" y="620" width="50" height="182" fill="url(#stv)"/></mask><filter id="bl" x="-0.5" y="-0.5" width="2" height="2"><feGaussianBlur stdDeviation="1.6"/></filter></defs>
<rect x="884" y="620" width="40" height="181.6" fill="url(#stk)" mask="url(#stm)" opacity="0.22"/>
<path d="M840 742 q4 -6 8 -2 q3 5 2 12 q-1 8 -5 14 q-4 3 -5 -3 q0 -8 -3 -12 z" fill="#c4cac2" opacity="0.7" filter="url(#bl)"/>
<circle cx="836.5" cy="721.5" r="1.6" fill="#10100a" opacity="0.8"/>
<circle cx="840" cy="732" r="1.2" fill="#15150d" opacity="0.7"/>
<ellipse cx="862.5" cy="765" rx="2.6" ry="2.2" fill="#0c0c08" opacity="0.75" filter="url(#bl)"/>
<rect x="823.8" y="801.6" width="121.4" height="82.1" fill="#343b45"/>
<rect x="823.8" y="801.6" width="121.4" height="82.1" filter="url(#nr)" opacity="0.38"/>
<rect x="823.8" y="801.6" width="121.4" height="82.1" filter="url(#nd)" opacity="0.6"/>
</g>
<g id="panel-a">
<path class="ah" d="M153.5 123.6 H801"/>
<path class="ax" d="M153.2 98.2 V907.9"/>
<path class="ah" d="M128.3 882.6 H801"/>
<path class="ax" d="M270.86 98.2 V123.6"/>
<path class="ax" d="M388.52 98.2 V123.6"/>
<path class="ax" d="M506.18 98.2 V123.6"/>
<path class="ax" d="M623.84 98.2 V123.6"/>
<path class="ax" d="M741.5 98.2 V123.6"/>
<path class="ax" d="M282.66 882.6 V907.9"/>
<path class="ax" d="M412.12 882.6 V907.9"/>
<path class="ax" d="M541.58 882.6 V907.9"/>
<path class="ax" d="M671.04 882.6 V907.9"/>
<path class="ax" d="M800.5 882.6 V907.9"/>
<path class="ah" d="M128.3 173.9 H153.2"/>
<path class="ah" d="M128.3 275.14 H153.2"/>
<path class="ah" d="M128.3 376.39 H153.2"/>
<path class="ah" d="M128.3 477.63 H153.2"/>
<path class="ah" d="M128.3 578.87 H153.2"/>
<path class="ah" d="M128.3 680.12 H153.2"/>
<path class="ah" d="M128.3 781.36 H153.2"/>
<text class="tk" transform="translate(153.2 79.6) scale(1 1.025)" text-anchor="middle">0</text>
<text class="tk" transform="translate(270.86 79.6) scale(1 1.025)" text-anchor="middle">0.02</text>
<text class="tk" transform="translate(388.52 79.6) scale(1 1.025)" text-anchor="middle">0.04</text>
<text class="tk" transform="translate(506.18 79.6) scale(1 1.025)" text-anchor="middle">0.06</text>
<text class="tk" transform="translate(623.84 79.6) scale(1 1.025)" text-anchor="middle">0.08</text>
<text class="tk" transform="translate(741.5 79.6) scale(1 1.025)" text-anchor="middle">0.1</text>
<text class="tk" transform="translate(153.2 946) scale(1 1.025)" text-anchor="middle">-46</text>
<text class="tk" transform="translate(282.66 946) scale(1 1.025)" text-anchor="middle">-45</text>
<text class="tk" transform="translate(412.12 946) scale(1 1.025)" text-anchor="middle">-44</text>
<text class="tk" transform="translate(541.58 946) scale(1 1.025)" text-anchor="middle">-43</text>
<text class="tk" transform="translate(671.04 946) scale(1 1.025)" text-anchor="middle">-42</text>
<text class="tk" transform="translate(800.5 946) scale(1 1.025)" text-anchor="middle">-41</text>
<text class="tk" transform="translate(115.4 183.8) scale(1 1.025)" text-anchor="end">540.5</text>
<text class="tk" transform="translate(115.4 285.04) scale(1 1.025)" text-anchor="end">540.6</text>
<text class="tk" transform="translate(115.4 386.29) scale(1 1.025)" text-anchor="end">540.7</text>
<text class="tk" transform="translate(115.4 487.53) scale(1 1.025)" text-anchor="end">540.8</text>
<text class="tk" transform="translate(115.4 588.77) scale(1 1.025)" text-anchor="end">540.9</text>
<text class="tk" transform="translate(115.4 690.01) scale(1 1.025)" text-anchor="end">541.0</text>
<text class="tk" transform="translate(115.4 791.26) scale(1 1.025)" text-anchor="end">541.1</text>
<text class="tk" transform="translate(115.4 892.5) scale(1 1.025)" text-anchor="end">541.2</text>
<text class="tt" transform="translate(318.2 36.4) scale(1 1.025)">Air content (cm<tspan dx="-0.1" dy="-9.6">3</tspan><tspan dx="-0.2" dy="9.6"> g</tspan><tspan dx="0.3" dy="-9.6">-1</tspan><tspan dx="1.1" dy="9.6">)</tspan></text>
<text class="tt" transform="translate(415 983) scale(1 1.025)"><tspan class="dl">δ</tspan><tspan dx="1.6" dy="-10.3" font-size="19.5">18</tspan><tspan dx="-0.6" dy="10.3">0 (‰)</tspan></text>
<text class="tt" transform="translate(26.5 501.5) rotate(-90) scale(1.005 0.98)" text-anchor="middle">Depth (m)</text>
<path class="rl" d="M659.4 173.6 L659.4 193.9 L633.4 193.9 L633.4 214.3 L603 214.3 L603 229.9 L630 229.9 L630 249.7 L635 249.7 L635 269.9 L637.4 269.9 L637.4 288.9 L654 288.9 L654 308.9 L556 308.9 L556 328.3 L621 328.3 L621 348.3 L624.4 348.3 L624.4 367.9 L635 367.9 L635 387.9 L657 387.9 L657 407.3 L645.6 407.3 L645.6 427.3 L574 427.3 L574 447.3 L359 447.3 L359 466.3 L324 466.3 L324 486.3 L277 486.3 L277 505.9 L278 505.9 L278 525.7 L291.4 525.7 L291.4 545.7 L269 545.7 L269 565.3 L264 565.3 L264 584.9 L280.4 584.9 L280.4 604.3 L303 604.3 L303 624.7 L313 624.7 L313 649.7 L301.4 649.7 L301.4 669.7 L281 669.7 L281 690.3 L302 690.3 L302 709.7 L223 709.7 L223 729.3 L213.6 729.3 L213.6 749.3 L225 749.3 L225 768.9 L236.4 768.9 L236.4 788.7 L230.6 788.7 L230.6 801.6"/>
<path class="bl" d="M738 173.6 L738 219.3 L732.6 219.3 L732.6 254.9 L736.6 254.9 L736.6 295.3 L737.4 295.3 L737.4 336.3 L734 336.3 L734 376.7 L739.6 376.7 L739.6 416.9 L725.6 416.9 L725.6 447.3 L681.4 447.3 L681.4 497.9 L629.4 497.9 L629.4 537.7 L672.6 537.7 L672.6 578.9 L687.4 578.9 L687.4 604.3 L491.4 604.3 L491.4 639.9 L380 639.9 L380 680.3 L329.4 680.3 L329.4 740.7 L238 740.7 L238 801.6"/>
<path class="ds" d="M153.3 447.3 H943.4"/>
<path class="ds" d="M153.3 604 H943.4"/>
<path class="ds" d="M153.3 801.6 H943.4"/>
<text class="an" transform="translate(236.5 419.9) scale(1 1.0)">Bubbly glacier ice</text>
<text class="an" transform="translate(535 717.7) scale(1 1.01)">Silty ice</text>
<text class="an" transform="translate(535 850.2) scale(1 1.0)">Bedrock</text>
<text class="pl" transform="translate(41 42.6) scale(1 1.025)">a</text>
</g>
<g id="panel-b-labels">
<text class="pl" transform="translate(862.8 43.3) scale(1 0.965)">b</text>
<text class="ph" transform="translate(889.2 443.2) scale(1 1.01)" text-anchor="middle">540.77</text>
<text class="ph" transform="translate(889.2 599.9) scale(1 1.015)" text-anchor="middle">540.93</text>
<text class="ph" transform="translate(889.2 794.4) scale(1 1.015)" text-anchor="middle" style="fill:#fff;stroke:#fff">541.12</text>
</g>
<g id="panel-c">
<path class="ax" d="M1130 123.6 V907.9"/>
<path class="ah" d="M1105.2 882.6 H1727.6"/>
<path class="ah" d="M1105.2 123.6 H1130"/>
<path class="ah" d="M1117.4 218.47 H1130"/>
<path class="ah" d="M1105.2 313.35 H1130"/>
<path class="ah" d="M1117.4 408.23 H1130"/>
<path class="ah" d="M1105.2 503.1 H1130"/>
<path class="ah" d="M1117.4 597.98 H1130"/>
<path class="ah" d="M1105.2 692.85 H1130"/>
<path class="ah" d="M1117.4 787.73 H1130"/>
<path class="ax" d="M1204.7 882.6 V895.3"/>
<path class="ax" d="M1279.4 882.6 V907.9"/>
<path class="ax" d="M1354.1 882.6 V895.3"/>
<path class="ax" d="M1428.8 882.6 V907.9"/>
<path class="ax" d="M1503.5 882.6 V895.3"/>
<path class="ax" d="M1578.2 882.6 V907.9"/>
<path class="ax" d="M1652.9 882.6 V895.3"/>
<path class="ax" d="M1727.6 882.6 V907.9"/>
<text class="tk" transform="translate(1092 133.6) scale(1 1.025)" text-anchor="end">-330</text>
<text class="tk" transform="translate(1092 323.35) scale(1 1.025)" text-anchor="end">-340</text>
<text class="tk" transform="translate(1092 513.1) scale(1 1.025)" text-anchor="end">-350</text>
<text class="tk" transform="translate(1092 702.85) scale(1 1.025)" text-anchor="end">-360</text>
<text class="tk" transform="translate(1092 892.6) scale(1 1.025)" text-anchor="end">-370</text>
<text class="tk" transform="translate(1130 946) scale(1 1.025)" text-anchor="middle">-46</text>
<text class="tk" transform="translate(1279.4 946) scale(1 1.025)" text-anchor="middle">-45</text>
<text class="tk" transform="translate(1428.8 946) scale(1 1.025)" text-anchor="middle">-44</text>
<text class="tk" transform="translate(1578.2 946) scale(1 1.025)" text-anchor="middle">-43</text>
<text class="tk" transform="translate(1727.6 946) scale(1 1.025)" text-anchor="middle">-42</text>
<text class="tt" transform="translate(1366.5 983) scale(1 1.025)"><tspan class="dl">δ</tspan><tspan dx="1.6" dy="-10.3" font-size="19.5">18</tspan><tspan dx="-0.6" dy="10.3">0 (‰)</tspan></text>
<text class="tt" transform="translate(1019 501.5) rotate(-90) scale(1.005 0.98)" text-anchor="middle"><tspan class="dl">δ</tspan>D (‰)</text>
<text class="eq" transform="translate(1185 410.6) scale(1 1.025)"><tspan class="dl">δ</tspan>D = 7.68*<tspan class="dl">δ</tspan><tspan dx="0.4" dy="-8.6" font-size="19.5">18</tspan><tspan dx="-1.6" dy="8.6">O - 12.58</tspan></text>
<path d="M1159.2 771.6 L1728.3 217.0" style="stroke:#000;stroke-width:2.4;fill:none;stroke-linecap:butt"/>
<circle class="pc" cx="1595" cy="345" r="8.8"/>
<circle class="pc" cx="1616" cy="329" r="8.8"/>
<circle class="pc" cx="1649" cy="289" r="8.8"/>
<circle class="pc" cx="1670" cy="270" r="8.8"/>
<circle class="pc" cx="1674" cy="271.4" r="8.8"/>
<circle class="pc" cx="1680" cy="257" r="8.8"/>
<circle class="pc" cx="1686" cy="255" r="8.8"/>
<circle class="pc" cx="1689" cy="259" r="8.8"/>
<circle class="pc" cx="1686" cy="265" r="8.8"/>
<circle class="pc" cx="1698.4" cy="249" r="8.8"/>
<circle class="pc" cx="1708.4" cy="235" r="8.8"/>
<circle class="pc" cx="1714" cy="233.1" r="8.8"/>
<circle class="pc" cx="1711.2" cy="232.9" r="8.8"/>
<circle class="pb" cx="1273.9" cy="657.8" r="8.8"/>
<circle class="pb" cx="1276.9" cy="660.8" r="8.8"/>
<circle class="pb" cx="1263.4" cy="671.6" r="8.8"/>
<circle class="pb" cx="1258" cy="681" r="8.8"/>
<circle class="pb" cx="1290" cy="646" r="8.8"/>
<circle class="pb" cx="1302" cy="626" r="8.8"/>
<circle class="pb" cx="1327" cy="612.4" r="8.8"/>
<circle class="pb" cx="1367.6" cy="568.4" r="8.8"/>
<circle class="pr" cx="1200" cy="738" r="8.8"/>
<circle class="pr" cx="1210.6" cy="729.6" r="8.8"/>
<circle class="pr" cx="1212.6" cy="725.6" r="8.8"/>
<circle class="pr" cx="1226.6" cy="704" r="8.8"/>
<circle class="pr" cx="1219.4" cy="693.6" r="8.8"/>
<circle class="pr" cx="1277.4" cy="655.6" r="8.8"/>
<circle class="pr" cx="1314.6" cy="621.6" r="8.8"/>
<circle class="pr" cx="1301.4" cy="629.4" r="8.8"/>
<circle class="pr" cx="1303" cy="627.4" r="8.8"/>
<text class="pl" transform="translate(1091.9 43.2) scale(1 0.985)">c</text>
</g>
</svg>
</body></html>
